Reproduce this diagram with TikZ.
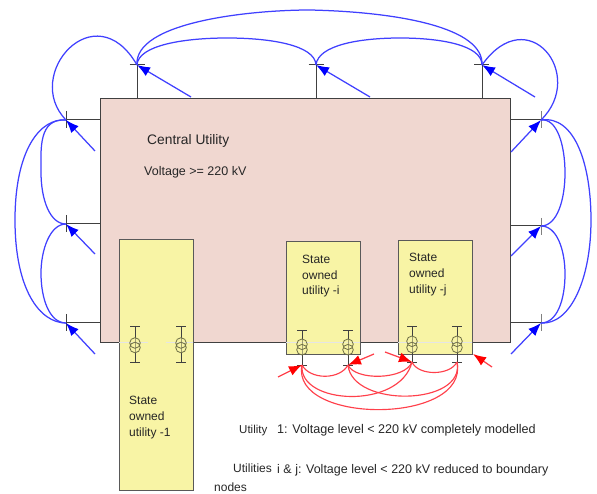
\documentclass[tikz,border=0pt]{standalone}
\usepackage{xcolor}
\usepackage{fontspec}
\setmainfont{Liberation Sans}
\usepackage{tikz}
\usetikzlibrary{arrows.meta}
\definecolor{utilpink}{RGB}{240,215,208}
\definecolor{stateyellow}{RGB}{248,244,165}
\definecolor{linkblue}{RGB}{64,64,255}
\definecolor{linkred}{RGB}{255,64,75}
\definecolor{trafogrey}{RGB}{110,110,70}
\tikzset{
    bus/.style = {color = black!75, line width = 1pt},
    blueline/.style = {color = linkblue, line width = 1.25pt},
    redline/.style = {color = linkred, line width = 1.15pt},
    bluearrow/.style = {color = linkblue, line width = 1.25pt,
        -{Latex[length=13pt,width=10pt,color=blue]}},
    redarrow/.style = {color = linkred, line width = 1.25pt,
        -{Latex[length=13pt,width=10pt,color=red]}},
    label/.style = {anchor = base west, inner sep = 0pt, font = \fontsize{12}{13}\selectfont, color = black!85},
    statebox/.style = {draw = black!65, fill = stateyellow, line width = 0.9pt},
    trafo/.style = {draw = trafogrey, line width = 0.8pt}
}

\begin{document}
\begin{tikzpicture}[x = 1pt, y = -1pt]
        \useasboundingbox (0, 0) rectangle (597, 494);

        \filldraw[draw = black!75, fill = utilpink, line width = 1pt] (100.5, 99) rectangle (510, 342);
        \coordinate (boxL1) at (100.5, 120);
        \coordinate (boxL2) at (100.5, 224);
        \coordinate (boxL3) at (100.5, 323);
        \coordinate (boxR1) at (510, 120);
        \coordinate (boxR2) at (510, 226);
        \coordinate (boxR3) at (510, 323);
        \coordinate (boxT1) at (137, 99);
        \coordinate (boxT2) at (316, 99);
        \coordinate (boxT3) at (482, 99);

        \coordinate (L1) at (66, 120);
        \coordinate (L2) at (66, 224);
        \coordinate (L3) at (66, 323);
        \coordinate (R1) at (541, 120);
        \coordinate (R2) at (541, 226);
        \coordinate (R3) at (541, 323);
        \coordinate (T1) at (137, 65);
        \coordinate (T2) at (316, 65);
        \coordinate (T3) at (482, 65);

        \draw[bus] (boxL1) -- (L1);
        \draw[bus] (boxL2) -- (L2);
        \draw[bus] (boxL3) -- (L3);
        \draw[bus] (boxR1) -- (R1);
        \draw[bus] (boxR2) -- (R2);
        \draw[bus] (boxR3) -- (R3);
        \draw[bus] (boxT1) -- (T1);
        \draw[bus] (boxT2) -- (T2);
        \draw[bus] (boxT3) -- (T3);

        \draw[bus] (66, 111) -- (66, 128);
        \draw[bus] (66, 215) -- (66, 232);
        \draw[bus] (66, 314) -- (66, 331);
        \draw[bus, black!50] (541, 111) -- (541, 128);
        \draw[bus, black!50] (541, 218) -- (541, 235);
        \draw[bus, black!50] (541, 314) -- (541, 331);
        \draw[bus] (129.5, 65) -- (145, 65);
        \draw[bus] (308.5, 65) -- (324, 65);
        \draw[bus] (474, 65) -- (489, 65);

        \draw[blueline] (T1) .. controls (134, 22) and (250, 10) .. (310, 10)
            .. controls (400, 12) and (484, 28) .. (T3);
        \draw[blueline] (T1) .. controls (138, 45) and (185, 38) .. (227, 38)
            .. controls (270, 38) and (315, 45) .. (T2);
        \draw[blueline] (T2) .. controls (318, 45) and (360, 38) .. (400, 38)
            .. controls (440, 38) and (482, 45) .. (T3);
        \draw[blueline] (L1) .. controls (22, 75) and (95, -8) .. (T1);
        \draw[blueline] (R1) .. controls (587, 75) and (528, 0) .. (T3);

        \draw[blueline] (L1) .. controls (38, 118) and (41, 150) .. (41, 172)
            .. controls (41, 200) and (50, 224) .. (L2);
        \draw[blueline] (L2) .. controls (50, 224) and (41, 250) .. (41, 273)
            .. controls (41, 300) and (50, 323) .. (L3);
        \draw[blueline] (L1) .. controls (40, 118) and (15, 150) .. (15, 220)
            .. controls (15, 290) and (40, 323) .. (L3);

        \draw[blueline] (R1) .. controls (557, 118) and (565, 145) .. (565, 173)
            .. controls (565, 200) and (557, 226) .. (R2);
        \draw[blueline] (R2) .. controls (557, 226) and (565, 250) .. (565, 274)
            .. controls (565, 300) and (557, 323) .. (R3);
        \draw[blueline] (R1) .. controls (575, 115) and (591, 165) .. (591, 220)
            .. controls (591, 280) and (570, 325) .. (R3);

        \coordinate (aL1) at (95, 151);
        \coordinate (aL2) at (95, 254);
        \coordinate (aL3) at (95, 354);
        \coordinate (aR1) at (511, 152);
        \coordinate (aR2) at (511, 256);
        \coordinate (aR3) at (511, 354);
        \coordinate (aT1) at (191, 97);
        \coordinate (aT2) at (370, 97);
        \coordinate (aT3) at (535, 97);
        \draw[bluearrow] (aL1) -- (L1);
        \draw[bluearrow] (aL2) -- (L2);
        \draw[bluearrow] (aL3) -- (L3);
        \draw[bluearrow] (aR1) -- (R1);
        \draw[bluearrow] (aR2) -- (R2);
        \draw[bluearrow] (aR3) -- (R3);
        \draw[bluearrow] (aT1) -- (T1);
        \draw[bluearrow] (aT2) -- (T2);
        \draw[bluearrow] (aT3) -- (T3);

        \filldraw[statebox] (119, 239) rectangle (193, 490);
        \filldraw[statebox] (286, 241) rectangle (360, 354);
        \filldraw[statebox] (398, 240) rectangle (472, 354);

        \draw[color = black!10, line width = 0.8pt] (119, 342) -- (148, 342) (166, 342) -- (193, 342)
            (286, 342) -- (360, 342) (398, 342) -- (472, 342);

        % transformers of utility 1
        \coordinate (a1) at (135, 326.5);
        \coordinate (a2) at (135, 362.5);
        \coordinate (b1) at (181, 326.5);
        \coordinate (b2) at (181, 362.5);
        \draw[bus] (a1) -- (a2) (130, 326.5) -- (140, 326.5) (130, 362.5) -- (140, 362.5);
        \draw[bus] (b1) -- (b2) (176, 326.5) -- (186, 326.5) (176, 362.5) -- (186, 362.5);
        \filldraw[trafo, fill = stateyellow, fill opacity = 0.5] (135, 343) circle (5.3) (135, 347.5) circle (5.3);
        \filldraw[trafo, fill = stateyellow, fill opacity = 0.5] (181, 343) circle (5.3) (181, 347.5) circle (5.3);

        % transformers of utility i and j
        \coordinate (c1) at (302, 330);
        \coordinate (c2) at (302, 365);
        \coordinate (d1) at (348, 330);
        \coordinate (d2) at (348, 365);
        \coordinate (e1) at (412, 327);
        \coordinate (e2) at (412, 362);
        \coordinate (f1) at (457, 327);
        \coordinate (f2) at (457, 362);
        \draw[bus] (c1) -- (c2) (297, 330) -- (307, 330) (297, 365) -- (307, 365);
        \draw[bus] (d1) -- (d2) (343, 330) -- (353, 330) (343, 365) -- (353, 365);
        \draw[bus] (e1) -- (e2) (407, 327) -- (417, 327) (407, 362) -- (417, 362);
        \draw[bus] (f1) -- (f2) (452, 327) -- (462, 327) (452, 362) -- (462, 362);
        \filldraw[trafo, fill = stateyellow, fill opacity = 0.5] (302, 344.3) circle (5.3) (302, 349.7) circle (5.3);
        \filldraw[trafo, fill = stateyellow, fill opacity = 0.5] (348, 344.3) circle (5.3) (348, 349.7) circle (5.3);
        \filldraw[trafo, fill = stateyellow, fill opacity = 0.5] (412, 341.3) circle (5.3) (412, 347.5) circle (5.3);
        \filldraw[trafo, fill = stateyellow, fill opacity = 0.5] (457, 341.3) circle (5.3) (457, 347.5) circle (5.3);

        \draw[redline] (c2) .. controls (310, 380) and (340, 380) .. (d2);
        \draw[redline] (d2) .. controls (355, 381) and (405, 380) .. (e2);
        \draw[redline] (e2) .. controls (418, 376) and (450, 376) .. (f2);
        \draw[redline] (c2) .. controls (298, 405) and (400, 410) .. (e2);
        \draw[redline] (d2) .. controls (352, 408) and (466, 406) .. (f2);
        \draw[redline] (c2) .. controls (290, 425) and (470, 425) .. (f2);

        \coordinate (r1) at (278, 377);
        \coordinate (r2) at (374, 354);
        \coordinate (r3) at (385, 352);
        \coordinate (r4) at (492, 367);
        \coordinate (rt4) at (473, 354);
        \draw[redarrow] (r1) -- (c2);
        \draw[redarrow] (r2) -- (d2);
        \draw[redarrow] (r3) -- (e2);
        \draw[redarrow] (r4) -- (rt4);

        \node[label, font = \fontsize{13.8}{15}\selectfont] (central) at (147, 145) {Central Utility};
        \node[label, font = \fontsize{12.5}{14}\selectfont] (voltage) at (144, 176) {Voltage >= 220 kV};

        \node[label] (state1a) at (129, 404) {State};
        \node[label] (state1b) at (129, 420) {owned};
        \node[label] (state1c) at (129, 436) {utility -1};
        \node[label] (stateia) at (302, 264) {State};
        \node[label] (stateib) at (302, 280) {owned};
        \node[label] (stateic) at (302, 295) {utility -i};
        \node[label] (stateja) at (409, 262) {State};
        \node[label] (statejb) at (409, 278) {owned};
        \node[label] (statejc) at (409, 294) {utility -j};

        \node[label, font = \fontsize{11.5}{13}\selectfont] (note1a) at (239, 433) {Utility};
        \node[label, font = \fontsize{12.6}{15}\selectfont] (note1b) at (277, 433) {1: Voltage level < 220 kV completely modelled};
        \node[label] (note2) at (233, 472) {Utilities};
        \node[label, font = \fontsize{12.5}{14}\selectfont] (note3) at (277, 473) {i \& j: Voltage level < 220 kV reduced to boundary};
        \node[label] (note4) at (214, 491.5) {nodes};
    \end{tikzpicture}
\end{document}
